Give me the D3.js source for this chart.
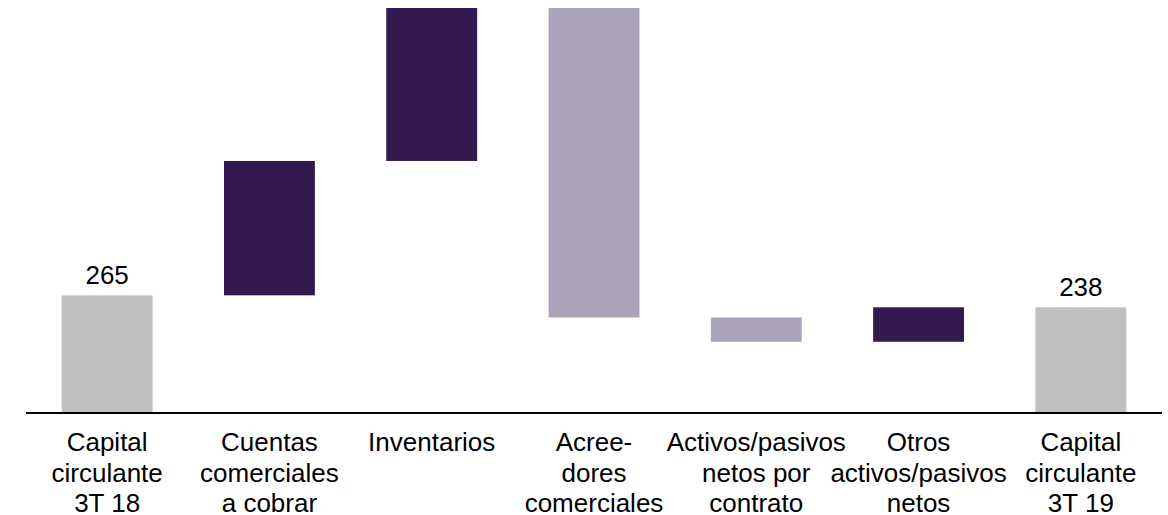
<!DOCTYPE html>
<html><head><meta charset="utf-8">
<script src="https://cdn.jsdelivr.net/npm/d3@7"></script>
<style>html,body{margin:0;padding:0;background:#fff;}svg{display:block;}</style>
</head><body>
<svg id="chart" width="1168" height="515"></svg>
<script>
const categories = ["Capital circulante 3T 18","Cuentas comerciales a cobrar","Inventarios","Acreedores comerciales","Activos/pasivos netos por contrato","Otros activos/pasivos netos","Capital circulante 3T 19"];
const labelLines = [["Capital","circulante","3T 18"],["Cuentas","comerciales","a cobrar"],["Inventarios"],["Acree-","dores","comerciales"],["Activos/pasivos","netos por","contrato"],["Otros","activos/pasivos","netos"],["Capital","circulante","3T 19"]];
const changes = [265, 304, 346, -700, -55, 78, 238];
const kinds = ["total","delta","delta","delta","delta","delta","total"];
const shownLabels = ["265", null, null, null, null, null, "238"];

const svg = d3.select("#chart");
const x = d3.scaleBand().domain(categories).range([26, 1162]).paddingInner(0.44).paddingOuter(0.22);
const y = d3.scaleLinear().domain([0, 915]).range([412.5, 8]);

let run = 0;
const bars = categories.map((c, i) => {
  let start, end;
  if (kinds[i] === "total") { start = 0; end = changes[i]; run = changes[i]; }
  else { start = run; end = run + changes[i]; run = end; }
  return {c, i, start, end, kind: kinds[i], up: end >= start};
});
const color = d => d.kind === "total" ? "#BFBFBF" : (d.up ? "#321A50" : "#ABA3B9");

svg.selectAll("rect.bar").data(bars).join("rect")
  .attr("class","bar")
  .attr("x", d => x(d.c))
  .attr("width", x.bandwidth())
  .attr("y", d => y(Math.max(d.start, d.end)))
  .attr("height", d => Math.abs(y(d.start) - y(d.end)))
  .attr("fill", color);

svg.append("line").attr("x1", 26).attr("x2", 1162).attr("y1", 413).attr("y2", 413)
  .attr("stroke", "#000").attr("stroke-width", 1.8);

svg.selectAll("text.val").data(bars.filter(d => shownLabels[d.i])).join("text")
  .attr("class","val")
  .attr("x", d => x(d.c) + x.bandwidth()/2)
  .attr("y", d => y(d.end) - 11)
  .attr("text-anchor","middle")
  .attr("font-family","Liberation Sans, Arial, sans-serif")
  .attr("font-size", 26)
  .attr("fill","#000")
  .text(d => shownLabels[d.i]);

const lg = svg.selectAll("text.cat").data(categories).join("text")
  .attr("class","cat")
  .attr("text-anchor","middle")
  .attr("font-family","Liberation Sans, Arial, sans-serif")
  .attr("font-size", 26)
  .attr("fill","#000");
lg.each(function(c, i) {
  const t = d3.select(this);
  labelLines[i].forEach((ln, j) => {
    t.append("tspan").attr("x", x(c) + x.bandwidth()/2).attr("y", 451 + j*30.5).text(ln);
  });
});
</script>
</body></html>
